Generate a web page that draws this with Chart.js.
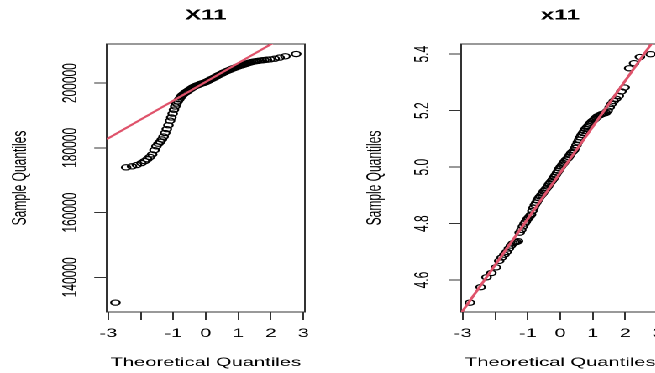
<!DOCTYPE html>
<html>
<head>
<meta charset="utf-8">
<script src="https://cdn.jsdelivr.net/npm/chart.js@4.4.1/dist/chart.umd.min.js"></script>
<style>
  html, body { margin: 0; padding: 0; background: #fff; overflow: hidden; }
  /* the reference is an R plot stretched sideways, so draw it narrow and stretch it */
  #row { display: flex; width: 422px; height: 373px; transform: scaleX(1.68); transform-origin: 0 0; }
  .panel { width: 211px; height: 373px; flex: none; }
</style>
</head>
<body>
<div id="row">
  <div class="panel"><canvas id="left" width="211" height="373"></canvas></div>
  <div class="panel"><canvas id="right" width="211" height="373"></canvas></div>
</div>
<script>
// theoretical normal quantiles (x of every point, shared by both panels)
const theoretical = [-2.78, -2.45, -2.27, -2.12, -1.98, -1.88, -1.80, -1.72, -1.65, -1.58,
  -1.52, -1.46, -1.40, -1.35, -1.30, -1.25, -1.20, -1.15, -1.10, -1.06,
  -1.02, -0.98, -0.94, -0.90, -0.86, -0.82, -0.78, -0.74, -0.70, -0.66,
  -0.62, -0.58, -0.54, -0.50, -0.46, -0.42, -0.38, -0.34, -0.30, -0.26,
  -0.22, -0.18, -0.14, -0.10, -0.06, -0.02, 0.02, 0.06, 0.10, 0.14,
  0.18, 0.22, 0.26, 0.30, 0.34, 0.38, 0.42, 0.46, 0.50, 0.54,
  0.58, 0.62, 0.66, 0.70, 0.74, 0.78, 0.82, 0.86, 0.90, 0.94,
  0.98, 1.02, 1.06, 1.10, 1.15, 1.20, 1.25, 1.30, 1.35, 1.40,
  1.46, 1.52, 1.58, 1.65, 1.72, 1.80, 1.88, 1.98, 2.12, 2.27,
  2.45, 2.78];

// sample quantiles of X11
const sampleX11 = [132200, 174000, 174300, 174700, 175300, 175900, 176500, 177200, 178000, 179300,
  180500, 181300, 181900, 182600, 183500, 184600, 185800, 187000, 188400, 189400,
  190600, 191800, 192800, 193700, 194400, 195000, 195600, 196100, 196500, 196850,
  197150, 197400, 197700, 198000, 198250, 198550, 198800, 199000, 199200, 199350,
  199500, 199700, 199850, 200000, 200100, 200250, 200450, 200650, 200850, 201100,
  201300, 201500, 201700, 201950, 202150, 202400, 202600, 202800, 203000, 203250,
  203400, 203600, 203800, 203950, 204150, 204300, 204500, 204650, 204800, 204950,
  205100, 205250, 205400, 205500, 205650, 205850, 206000, 206200, 206350, 206500,
  206650, 206750, 206850, 206950, 207050, 207150, 207250, 207350, 207550, 207900,
  208300, 209000];

// sample quantiles of x11
const samplex11 = [4.520, 4.575, 4.610, 4.625, 4.645, 4.668, 4.680, 4.690, 4.700, 4.712,
  4.722, 4.730, 4.733, 4.735, 4.738, 4.768, 4.778, 4.790, 4.800, 4.807,
  4.815, 4.820, 4.826, 4.832, 4.845, 4.856, 4.866, 4.874, 4.882, 4.890,
  4.896, 4.902, 4.908, 4.915, 4.920, 4.926, 4.932, 4.940, 4.946, 4.952,
  4.958, 4.965, 4.972, 4.980, 4.987, 4.995, 5.002, 5.008, 5.014, 5.020,
  5.026, 5.030, 5.036, 5.043, 5.050, 5.055, 5.060, 5.068, 5.078, 5.088,
  5.097, 5.106, 5.114, 5.121, 5.128, 5.135, 5.141, 5.146, 5.152, 5.157,
  5.162, 5.166, 5.170, 5.175, 5.180, 5.183, 5.186, 5.189, 5.190, 5.192,
  5.200, 5.212, 5.224, 5.234, 5.242, 5.252, 5.268, 5.282, 5.350, 5.368,
  5.390, 5.400];

// qqline ends
const lineX = [-3.05, 3.05];
const lineX11 = [182680, 218120];
const linex11 = [4.483, 5.477];

const xTicks = [-3, -2, -1, 0, 1, 2, 3];
const xTickLabels = ['-3', '', '-1', '0', '1', '2', '3'];
const yTicksX11 = [140000, 160000, 180000, 200000];
const yTicksx11 = [4.6, 4.8, 5.0, 5.2, 5.4];

const FAMILY = "'Liberation Sans', Arial, sans-serif";
const font = { family: FAMILY, size: 12 };
const AXIS = '#333';

function qqChart(id, title, sample, lineY, yMin, yMax, yTicks, fmt, yPad) {
  return new Chart(document.getElementById(id), {
    type: 'scatter',
    data: {
      datasets: [
        {
          type: 'line',
          data: lineX.map((x, i) => ({ x: x, y: lineY[i] })),
          borderColor: '#DF536B',
          borderWidth: 1.8,
          pointRadius: 0,
          clip: 0,
          order: 0
        },
        {
          type: 'scatter',
          data: theoretical.map((x, i) => ({ x: x, y: sample[i] })),
          pointStyle: 'circle',
          pointRadius: 2.6,
          borderWidth: 1.15,
          borderColor: '#000',
          backgroundColor: 'rgba(0,0,0,0)',
          order: 1
        }
      ]
    },
    options: {
      responsive: false,
      animation: false,
      devicePixelRatio: 2,
      events: [],
      layout: { padding: 0 },
      plugins: {
        legend: { display: false },
        tooltip: { enabled: false },
        title: { display: false }
      },
      scales: {
        x: {
          type: 'linear', position: 'bottom', min: -3.05, max: 3.05,
          afterBuildTicks: s => { s.ticks = xTicks.map(v => ({ value: v })); },
          afterFit: s => { s.height = 61; },
          ticks: {
            autoSkip: false, minRotation: 0, maxRotation: 0, padding: 6.6,
            color: '#000', font: font,
            callback: v => xTickLabels[xTicks.indexOf(v)]
          },
          grid: { display: true, drawOnChartArea: false, tickLength: 8, tickColor: AXIS, lineWidth: 1 },
          border: { display: true, color: AXIS, width: 1 },
          title: { display: true, text: 'Theoretical Quantiles', color: '#000', font: font, padding: { top: 0, bottom: 2.9 } }
        },
        y: {
          type: 'linear', position: 'left', min: yMin, max: yMax,
          afterBuildTicks: s => { s.ticks = yTicks.map(v => ({ value: v })); },
          afterFit: s => { s.width = 63.5; },
          ticks: {
            autoSkip: false, minRotation: 90, maxRotation: 90, crossAlign: 'center',
            padding: yPad, color: '#000', font: font,
            callback: v => fmt(v)
          },
          grid: { display: true, drawOnChartArea: false, tickLength: 7.4, tickColor: AXIS, lineWidth: 1 },
          border: { display: true, color: AXIS, width: 1 },
          title: { display: true, text: 'Sample Quantiles', color: '#000', font: font, padding: { top: 5.2, bottom: 0 } }
        },
        x2: {
          type: 'linear', position: 'top', display: true, min: 0, max: 1,
          afterFit: s => { s.height = 44; },
          ticks: { display: false },
          grid: { display: false },
          border: { display: true, color: AXIS, width: 1 },
          title: {
            display: true, text: title, color: '#000',
            font: { family: FAMILY, size: 14.4, weight: 'bold' },
            padding: { top: 6.8, bottom: 0 }
          }
        },
        y2: {
          type: 'linear', position: 'right', display: true, min: 0, max: 1,
          afterFit: s => { s.width = 29.5; },
          ticks: { display: false },
          grid: { display: false },
          border: { display: true, color: AXIS, width: 1 }
        }
      }
    }
  });
}

qqChart('left', 'X11', sampleX11, lineX11, 129300, 212100, yTicksX11, v => String(v), -6.2);
qqChart('right', 'x11', samplex11, linex11, 4.487, 5.436, yTicksx11, v => v.toFixed(1), 6.9);
</script>
</body>
</html>
